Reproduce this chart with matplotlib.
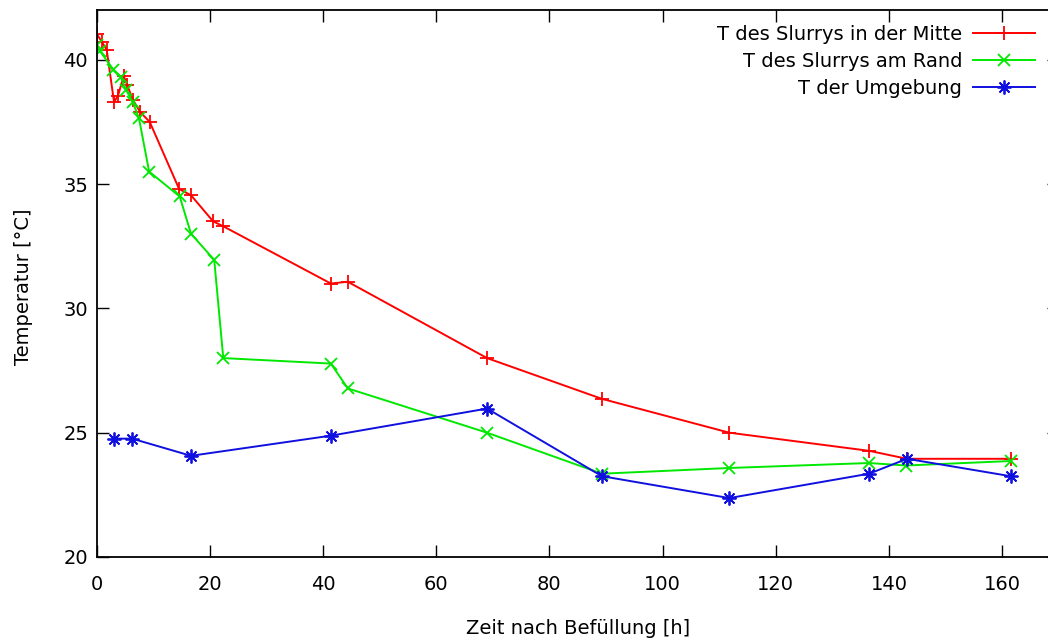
import matplotlib
matplotlib.use("Agg")
import matplotlib.pyplot as plt

plt.rcParams['font.family'] = ['DejaVu Sans']

# Data (time in h, temperature in °C)
t_mitte = [0, 1.0, 1.8, 3.1, 3.8, 4.8, 5.4, 6.4, 7.7, 9.4, 14.6, 16.7, 20.6, 22.4,
           41.4, 44.4, 69.0, 89.3, 111.8, 136.5, 143.2, 161.5]
T_mitte = [41.05, 40.7, 40.4, 38.3, 38.55, 39.35, 39.0, 38.4, 37.9, 37.5, 34.8, 34.55, 33.5, 33.3,
           31.0, 31.07, 28.0, 26.36, 25.0, 24.27, 23.95, 23.95]

t_rand = [0, 0.6, 3.0, 4.3, 5.2, 6.4, 7.5, 9.3, 14.7, 16.7, 20.8, 22.4,
          41.4, 44.4, 69.0, 89.3, 111.8, 136.5, 143.0, 161.5]
T_rand = [40.6, 40.35, 39.6, 39.3, 38.8, 38.3, 37.65, 35.5, 34.5, 33.0, 31.95, 28.0,
          27.78, 26.78, 25.0, 23.35, 23.58, 23.78, 23.68, 23.86]

t_umg = [3.1, 6.3, 16.7, 41.4, 69.0, 89.3, 111.8, 136.5, 143.2, 161.5]
T_umg = [24.76, 24.76, 24.07, 24.88, 25.97, 23.25, 22.37, 23.35, 23.95, 23.25]

labels = ["T des Slurrys in der Mitte", "T des Slurrys am Rand", "T der Umgebung"]
xticks = [0, 20, 40, 60, 80, 100, 120, 140, 160]
yticks = [20, 25, 30, 35, 40]

W, H = 1048, 641
fig = plt.figure(figsize=(W / 100, H / 100), dpi=100)
left_px, right_px, top_px, bottom_px = 96.5, 1058.7, 10, 557
ax = fig.add_axes([left_px / W, (H - bottom_px) / H,
                   (right_px - left_px) / W, (bottom_px - top_px) / H])

lw = 1.4
ms = 10
ax.plot(t_mitte, T_mitte, color='#ff0000', lw=lw, marker='+', ms=ms, mew=1.3, label=labels[0])
ax.plot(t_rand, T_rand, color='#00e800', lw=lw, marker='x', ms=ms * 0.85, mew=1.3, label=labels[1])
ax.plot(t_umg, T_umg, color='#1010e0', lw=lw, marker=(8, 2, 0), ms=ms, mew=1.3, label=labels[2])

ax.set_xlim(0, 170)
ax.set_ylim(20, 42)
ax.set_xticks(xticks)
ax.set_yticks(yticks)
ax.tick_params(direction='in', length=8.5, width=1.0, top=True, right=True, labelsize=14)
ax.tick_params(axis='x', pad=13)
ax.tick_params(axis='y', pad=6)
for s in ax.spines.values():
    s.set_linewidth(1.3)

ax.set_xlabel("Zeit nach Befüllung [h]", fontsize=14)
ax.set_ylabel("Temperatur [°C]", fontsize=14)
ax.xaxis.set_label_coords(0.5, -0.113)
ax.yaxis.set_label_coords(-0.066, 0.494)

leg = ax.legend(loc='upper right', bbox_to_anchor=((1035 - left_px) / (right_px - left_px),
                                                   1 - (25 - top_px) / (bottom_px - top_px)),
                frameon=False, markerfirst=False, fontsize=14, borderpad=0, borderaxespad=0,
                handlelength=3.2, handletextpad=0.55, labelspacing=0.4)

fig.savefig("out.png", dpi=100)
